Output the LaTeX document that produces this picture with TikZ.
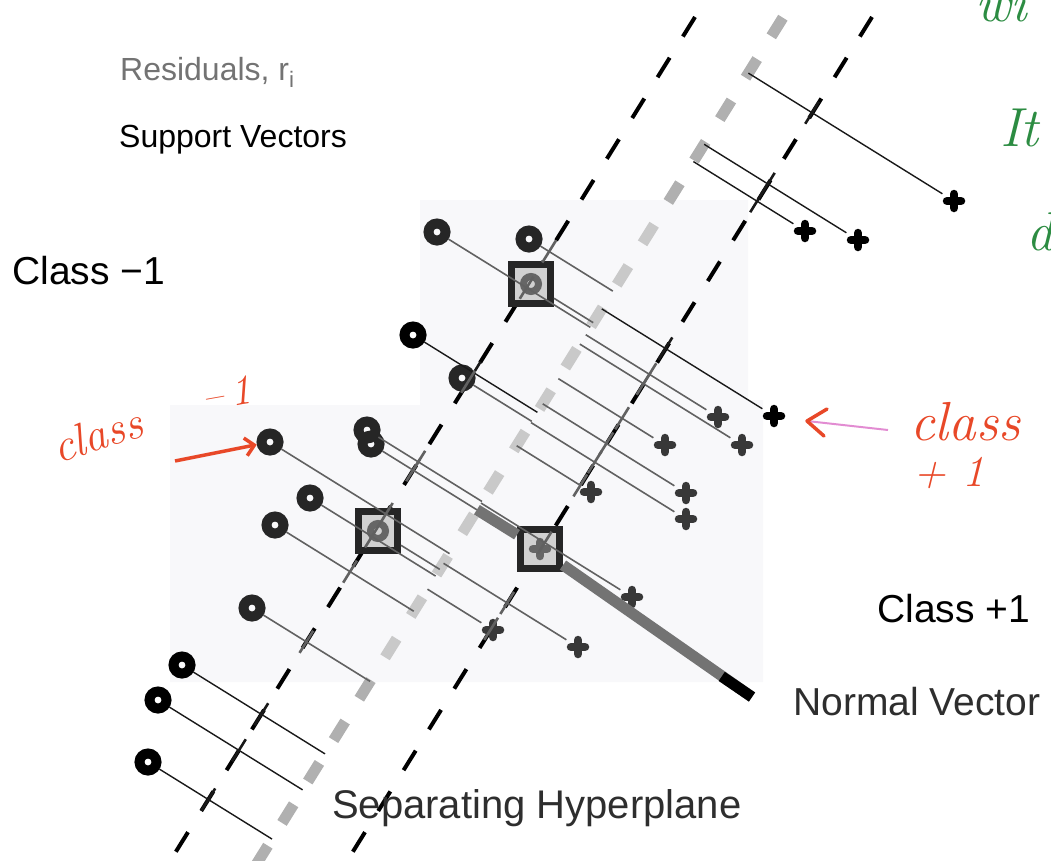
\documentclass[tikz,border=0pt]{standalone}
\usepackage{fontspec}
\newfontfamily\lab{Liberation Sans}
\usetikzlibrary{calc,arrows.meta}
\definecolor{handred}{RGB}{232,72,40}
\definecolor{handpink}{RGB}{226,140,210}
\definecolor{handgreen}{RGB}{44,140,66}
\definecolor{scanbg}{RGB}{248,248,250}
\begin{document}
\begin{tikzpicture}[x=1pt,y=-1pt,
  margin/.style={line width=4pt, dash pattern=on 23pt off 25pt, dash phase=28pt, black},
  res/.style={line width=1.4pt, black!90},
  resm/.style={line width=1.6pt, black!62},
  neg/.style={circle, draw=black, line width=10pt, minimum size=17pt, inner sep=0pt},
  negm/.style={neg, draw=black!85},
  negsv/.style={circle, draw=black!60, line width=7pt, minimum size=15pt, inner sep=0pt},
  pos/.style={circle, inner sep=0pt, minimum size=27pt, path picture={
    \draw[#1, line width=8.5pt, line cap=round]
      ($(path picture bounding box.center)+(-7pt,0pt)$) -- ($(path picture bounding box.center)+(7pt,0pt)$)
      ($(path picture bounding box.center)+(0pt,-7pt)$) -- ($(path picture bounding box.center)+(0pt,7pt)$);}},
  pos/.default=black,
  svbox/.style={rectangle, draw=black!85, line width=7pt, minimum size=39pt, inner sep=0pt, fill=black!18},
  lab/.style={inner sep=0pt, anchor=base west},
  handtext/.style={inner sep=0pt, anchor=base west},
]
\useasboundingbox (0,0) rectangle (1051,860);
% faint scanned background
\fill[scanbg] (420,200) -- (748,200) -- (748,400) -- (763,400) -- (763,682) -- (170,682) -- (170,405) -- (420,405) -- cycle;

% hyperplane and margins
\coordinate (H1) at (783.3,17);  \coordinate (H2) at (259,860);
\coordinate (L2) at (170.7,860);
\coordinate (R2) at (347.7,860);
\coordinate (LT) at (705.6,0);   \coordinate (RT) at (882.6,0);
\foreach \k in {0,...,20}{
  \pgfmathsetmacro\cy{27+41.4*\k}
  \pgfmathsetmacro\cx{777.1-0.622*41.4*\k}
  \pgfmathtruncatemacro\g{and(\k>4,\k<16)}
  \pgfmathtruncatemacro\gv{62-20*\g}
  \draw[line width=11pt, gray!\gv] (\cx+5.8,\cy-9.3) -- (\cx-5.8,\cy+9.3);
}
\draw[margin] (LT) -- (L2);
\draw[margin] (RT) -- (R2);

% support vector boxes
\node[svbox] (sq1) at (531,284) {};
\node[svbox] (sq2) at (378,531) {};
\node[svbox] (sq3) at (540,549) {};
\node[negsv] (c3) at (531,284) {};
\node[negsv] (c10) at (378,531) {};
\node[pos=black!60] (x14) at (540,549) {};

% class -1 points
\node[neg] (c4) at (413,335) {};
\node[neg] (c12) at (182,665) {};
\node[neg] (c13) at (158,700) {};
\node[neg] (c14) at (148,762) {};
\node[negm] (c1) at (437,232) {};
\node[negm] (c2) at (529,239) {};
\node[negm] (c5) at (462,378) {};
\node[negm] (c6) at (270,442) {};
\node[negm] (c7a) at (367,430) {};
\node[negm] (c7b) at (371,444) {};
\node[negm] (c8) at (310,498) {};
\node[negm] (c9) at (275,525) {};
\node[negm] (c11) at (252,608) {};
% class +1 points
\node[pos] (x1) at (954,201) {};
\node[pos] (x2) at (805,231) {};
\node[pos] (x3) at (858,240) {};
\node[pos] (x4) at (774,416) {};
\node[pos=black!78] (x5) at (718,417) {};
\node[pos=black!78] (x6) at (665,445) {};
\node[pos=black!78] (x7) at (742,445) {};
\node[pos=black!78] (x8) at (591,492) {};
\node[pos=black!78] (x9) at (686,493) {};
\node[pos=black!78] (x10) at (686,519) {};
\node[pos=black!78] (x11) at (632,597) {};
\node[pos=black!78] (x12) at (493,630) {};
\node[pos=black!78] (x13) at (578,647) {};

% residuals with margin ticks
\foreach \n/\s in {c4/res, c12/res, c13/res, c14/res,
  c1/resm, c2/resm, c5/resm, c6/resm, c7a/resm, c7b/resm, c8/resm, c9/resm, c11/resm,
  x1/res, x2/res, x3/res, x4/res,
  x5/resm, x6/resm, x7/resm, x8/resm, x9/resm, x10/resm, x11/resm, x12/resm, x13/resm}{
  \coordinate (f\n) at ($(H1)!(\n)!(H2)$);
  \draw[\s] (\n) -- (f\n);
  \coordinate (i\n) at ($(f\n)!75pt!(\n)$);
  \draw[\s, line width=2.6pt] ($(i\n)!13pt!90:(\n)$) -- ($(i\n)!13pt!-90:(\n)$);
}
% residuals of the support vectors
\coordinate (fc3) at ($(H1)!(c3)!(H2)$);
\coordinate (fc10) at ($(H1)!(c10)!(H2)$);
\draw[resm] (sq1) -- (fc3);
\draw[resm] (sq2) -- (fc10);

% normal vector
\coordinate (nvS) at ($(H1)!(x14)!(H2)$);
\coordinate (nvE) at (752,697);
\coordinate (nvK) at ($(nvS)!0.89!(nvE)$);
\draw[line width=11pt, black!55] (nvS) -- (sq3) -- (nvE);
\draw[line width=11pt, black] (nvK) -- (nvE);

% printed labels
\node[lab, text=black!55, font=\lab\fontsize{32pt}{38pt}\selectfont] (tres) at (120,80) {Residuals, r\textsubscript{i}};
\node[lab, font=\lab\fontsize{32pt}{38pt}\selectfont] (tsv) at (119,147) {Support Vectors};
\node[lab, font=\lab\fontsize{39pt}{46pt}\selectfont] (tcm) at (12,284) {Class −1};
\node[lab, font=\lab\fontsize{39pt}{46pt}\selectfont] (tcp) at (877,622) {Class +1};
\node[lab, text=black!82, font=\lab\fontsize{39pt}{46pt}\selectfont] (tnv) at (793,715) {Normal Vector};
\node[lab, text=black!82, font=\lab\fontsize{40pt}{48pt}\selectfont] (tsh) at (332,818) {Separating Hyperplane};

% handwritten notes
\node[handtext, text=handred, rotate=18, font=\itshape\fontsize{46pt}{52pt}\selectfont\addfontfeature{LetterSpace=8}] (hcl) at (58,464) {class};
\node[handtext, text=handred, rotate=10, font=\itshape\fontsize{42pt}{48pt}\selectfont] (hm1) at (204,412) {–\hspace{8pt}1};
\coordinate (ra) at (175,461);
\draw[handred, line width=3.5pt, -{Straight Barb[length=9pt,width=18pt]}] (ra) -- (c6);
\coordinate (pa) at (888,430);
\coordinate (pb) at (807,421);
\draw[handpink, line width=2pt] (pa) -- (pb);
\draw[handred, line width=3.5pt, line cap=round, line join=round] ($(pb)+(20,-12)$) -- (pb) -- ($(pb)+(17,15)$);
\node[handtext, text=handred, font=\itshape\fontsize{55pt}{60pt}\selectfont] (hcl2) at (910,440) {class};
\node[handtext, text=handred, font=\itshape\fontsize{44pt}{50pt}\selectfont] (hp1) at (913,486) {+\hspace{16pt}1};
\node[handtext, text=handgreen, font=\itshape\fontsize{55pt}{60pt}\selectfont] (hg1) at (975,21) {wi};
\node[handtext, text=handgreen, font=\itshape\fontsize{55pt}{60pt}\selectfont] (hg2) at (1000,146) {It};
\node[handtext, text=handgreen, font=\itshape\fontsize{55pt}{60pt}\selectfont] (hg3) at (1026,250) {d};
\end{tikzpicture}
\end{document}
